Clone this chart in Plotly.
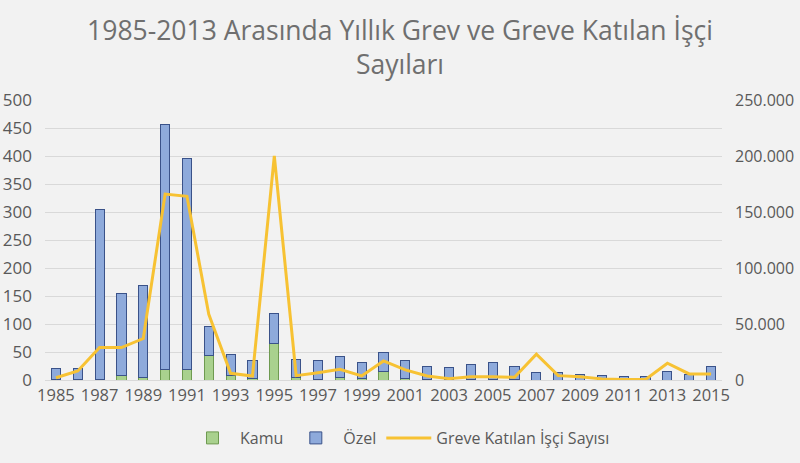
import plotly.graph_objects as go

years = list(range(1985, 2016))
kamu = [1, 1, 1, 8, 5, 19, 18, 44, 8, 3, 65, 4, 1, 5, 2, 15,
        2, 1, 1, 1, 1, 1, 0, 0, 0, 0, 0, 0, 0, 0, 0]
ozel = [20, 20, 304, 146, 164, 438, 378, 51, 38, 31, 53, 33, 33, 37, 29, 34,
        32, 24, 21, 27, 30, 24, 13, 13, 10, 8, 7, 7, 16, 9, 25]
isci = [2000, 8000, 29000, 29000, 37000, 166000, 164000, 58600, 6000, 3600,
        200000, 3900, 6500, 9500, 3600, 17000, 9000, 3600, 1200, 3000,
        3000, 2400, 23000, 3900, 3000, 1000, 500, 500, 15000, 5400, 5400]

gray = "#595959"
fig = go.Figure()
fig.add_trace(go.Bar(x=years, y=kamu, name="Kamu",
                     marker=dict(color="#a9d18e", line=dict(color="#6e9a50", width=1))))
fig.add_trace(go.Bar(x=years, y=ozel, name="Özel",
                     marker=dict(color="#8eaadb", line=dict(color="#3a5289", width=1))))
fig.add_trace(go.Scatter(x=years, y=isci, name="Greve Katılan İşçi Sayısı", yaxis="y2",
                         mode="lines", line=dict(color="#f7c233", width=3)))

fig.update_layout(
    width=800, height=463,
    barmode="stack", bargap=0.58,
    paper_bgcolor="#f2f2f2", plot_bgcolor="#f2f2f2",
    separators=",.",
    margin=dict(l=45, r=78, t=100, b=83),
    font=dict(family="Open Sans, Liberation Sans, sans-serif", color=gray, size=15),
    title=dict(text="1985-2013 Arasında Yıllık Grev ve Greve Katılan İşçi<br>Sayıları",
               x=0.5, xanchor="center", y=1 - 40 / 463, yanchor="middle", yref="container",
               font=dict(size=26.5, color="#6f6f6f")),
    xaxis=dict(range=[1984.5, 2015.5], tickmode="array",
               tickvals=years[::2], ticktext=[str(y) for y in years[::2]],
               showgrid=False, showline=True, linecolor="#d9d9d9", automargin=False,
               ticks="", tickfont=dict(size=16.5, color=gray)),
    yaxis=dict(range=[0, 500], dtick=50, gridcolor="#d9d9d9", zeroline=False,
               automargin=False,
               ticklabelstandoff=12, tickfont=dict(size=17, color=gray)),
    yaxis2=dict(range=[0, 250000], dtick=50000, overlaying="y", side="right",
                showgrid=False, zeroline=False, tickformat=",d", automargin=False,
                ticklabelstandoff=12, tickfont=dict(size=16, color=gray)),
    legend=dict(orientation="h", x=0.5, xanchor="center", xref="container",
                y=1 - 438 / 463, yanchor="middle", yref="container",
                itemwidth=45,
                font=dict(size=16, color=gray), traceorder="normal"),
)
fig.write_html("out.html", config={"displayModeBar": False},
               post_script="document.body.style.margin='0';"
               "document.body.style.background='#f2f2f2';")
